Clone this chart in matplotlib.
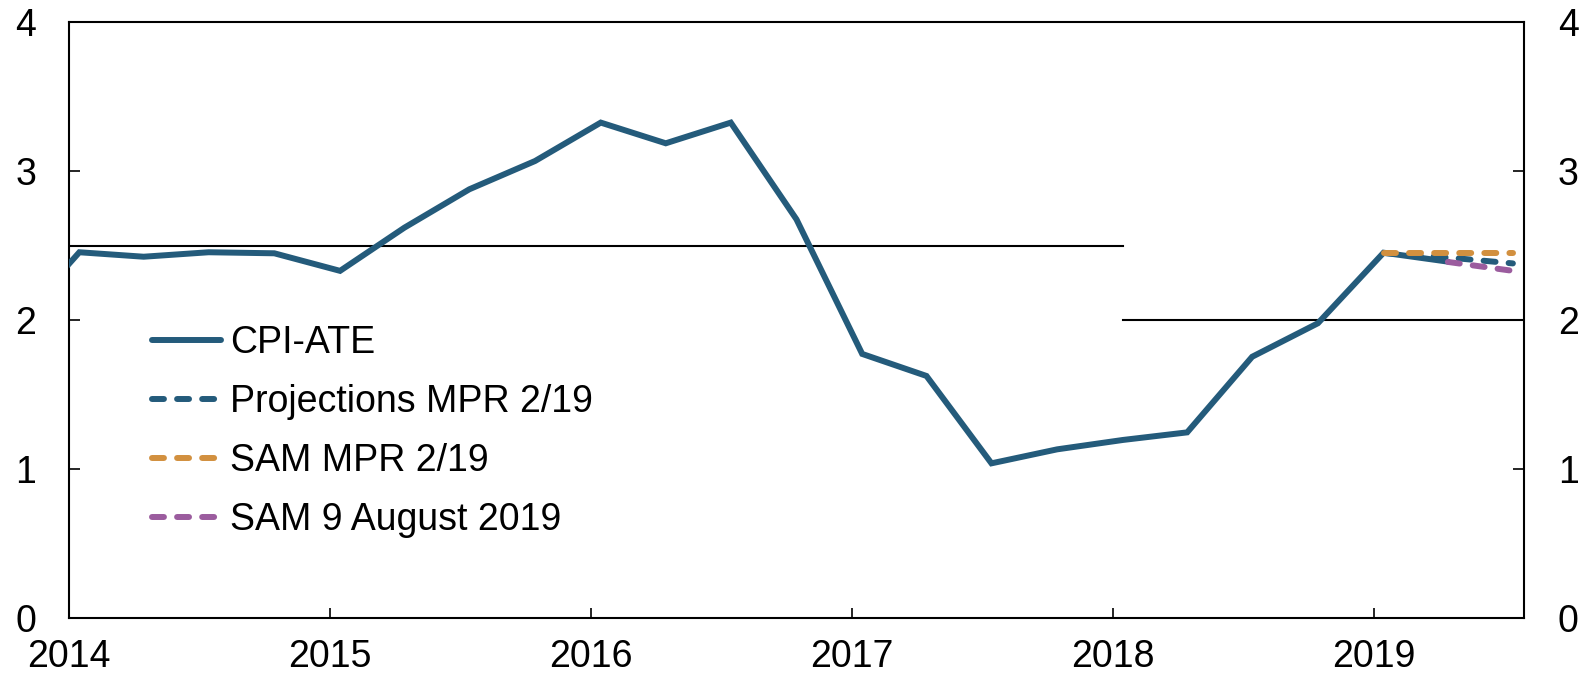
#%%
# imports
import pandas as pd
import matplotlib
matplotlib.use("Agg")
import matplotlib.pyplot as plt
import matplotlib.dates as mdates

#%%
# data, quarterly, percent
cpi_quarters = pd.period_range("2013Q4", "2019Q2", freq="Q")
cpi_ate = [1.96, 2.455, 2.425, 2.455, 2.448, 2.33, 2.62, 2.878, 3.068,
           3.326, 3.187, 3.326, 2.676, 1.772, 1.624, 1.037, 1.131,
           1.194, 1.245, 1.753, 1.978, 2.452, 2.392]

proj_quarters = pd.period_range("2019Q1", "2019Q3", freq="Q")
proj_mpr = [2.45, 2.42, 2.38]
sam_mpr = [2.45, 2.45, 2.45]

sam_aug_quarters = pd.period_range("2019Q2", "2019Q3", freq="Q")
sam_aug = [2.39, 2.33]

# inflation target: 2.5 until the change in 2018, 2.0 after
target_start = pd.Timestamp("2013-10-01")
target_switch = pd.Timestamp("2018-01-15")
target_end = pd.Timestamp("2019-12-31")
target_old = 2.5
target_new = 2.0

labels = ["CPI-ATE", "Projections MPR 2/19", "SAM MPR 2/19", "SAM 9 August 2019"]
years = [2014, 2015, 2016, 2017, 2018, 2019]

# colours
c_blue = "#245b7b"
c_orange = "#d2903f"
c_purple = "#9b5c9e"

#%%
def q_dates(periods):
    # values are plotted mid first month of each quarter
    return periods.start_time + pd.Timedelta(days=14)

plt.rcParams["font.family"] = ["Liberation Sans", "DejaVu Sans"]

fig = plt.figure(figsize=(15.87, 6.77), dpi=100)
ax = fig.add_axes([0.0437, 0.0876, 0.9168, 0.8795])

dash = (0, (2.0, 2.2))

ax.plot([target_start, target_switch], [target_old, target_old], color="black", lw=1.5, zorder=1)
ax.plot([target_switch, target_end], [target_new, target_new], color="black", lw=1.5, zorder=1)

ax.plot(q_dates(cpi_quarters), cpi_ate, color=c_blue, lw=4.3,
        solid_joinstyle="miter", solid_capstyle="round", label=labels[0], zorder=3)
ax.plot(q_dates(proj_quarters), proj_mpr, color=c_blue, lw=4.3, ls=dash,
        dash_capstyle="round", label=labels[1], zorder=4)
ax.plot(q_dates(proj_quarters), sam_mpr, color=c_orange, lw=4.3, ls=dash,
        dash_capstyle="round", label=labels[2], zorder=5)
ax.plot(q_dates(sam_aug_quarters), sam_aug, color=c_purple, lw=4.3, ls=dash,
        dash_capstyle="round", label=labels[3], zorder=6)

ax.set_xlim(pd.Timestamp("2014-01-01"), pd.Timestamp("2019-07-31"))
ax.set_ylim(0, 4)

ax.set_xticks([pd.Timestamp(f"{y}-01-01") for y in years])
ax.xaxis.set_major_formatter(mdates.DateFormatter("%Y"))
ax.set_yticks([0, 1, 2, 3, 4])

ax.tick_params(axis="x", direction="in", length=7.5, width=1.2, labelsize=27, pad=15.5)
ax.tick_params(axis="y", direction="in", length=8, width=1.2, labelsize=27, pad=24,
               left=True, right=True, labelleft=True, labelright=True)
for s in ax.spines.values():
    s.set_linewidth(1.5)

leg = ax.legend(loc="upper left", bbox_to_anchor=(0.0565, 0.492), frameon=False,
                fontsize=27, handlelength=1.85, handletextpad=0.25,
                labelspacing=0.62, borderpad=0, borderaxespad=0)

fig.savefig("out.png", dpi=100)
